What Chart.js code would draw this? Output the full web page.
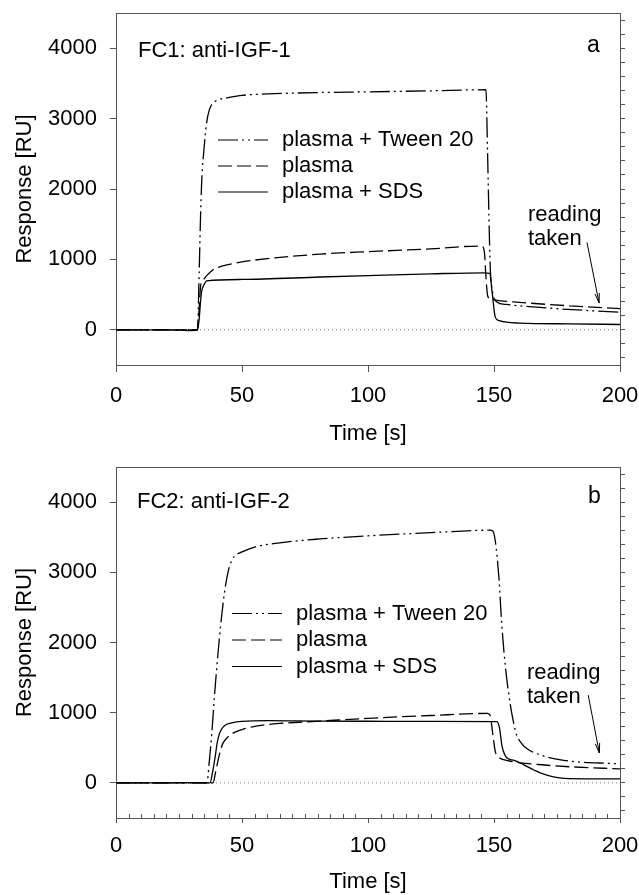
<!DOCTYPE html>
<html>
<head>
<meta charset="utf-8">
<script src="https://cdn.jsdelivr.net/npm/chart.js@4"></script>
<style>
  html, body { margin: 0; padding: 0; background: #fff; }
  #wrap { position: relative; width: 639px; height: 895px; }
  .panel { position: absolute; left: 0; width: 639px; }
  #pa { top: 0; height: 447px; }
  #pb { top: 447px; height: 448px; }
</style>
</head>
<body>
<div id="wrap">
  <div class="panel" id="pa"><canvas id="chartA"></canvas></div>
  <div class="panel" id="pb"><canvas id="chartB"></canvas></div>
</div>
<script>
// series names (legend order)
const seriesNames = ['plasma + Tween 20', 'plasma', 'plasma + SDS'];

// axis ticks
const xTicks = [0, 50, 100, 150, 200];
const xMinorTicks = [5, 10, 15, 20, 25, 30, 35, 40, 45, 55, 60, 65, 70, 75, 80, 85, 90, 95,
                     105, 110, 115, 120, 125, 130, 135, 140, 145, 155, 160, 165, 170, 175, 180, 185, 190, 195];
const yTicks = [0, 1000, 2000, 3000, 4000];
const yMinorTicks = [-400, -200, 0, 200, 400, 600, 800, 1000, 1200, 1400, 1600, 1800, 2000, 2200,
                     2400, 2600, 2800, 3000, 3200, 3400, 3600, 3800, 4000, 4200, 4400];
const zeroLine = [[0, 0], [200, 0]];

// panel a: FC1 anti-IGF-1  [time s, response RU]
const tweenA = [[0, 0], [10, 0], [20, 0], [30, 0], [32.3, 0], [33, 800], [33.5, 1550], [34, 2100],
  [35, 2600], [36, 2950], [37, 3120], [38, 3200], [39, 3235], [40, 3260], [45, 3300], [50, 3330],
  [60, 3350], [80, 3370], [100, 3380], [125, 3395], [146.8, 3410], [147.4, 2600], [148, 1600],
  [148.5, 900], [149.5, 520], [151, 400], [155, 360], [175, 300], [200, 250]];
const plasmaA = [[0, 0], [10, 0], [20, 0], [30, 0], [32.3, 0], [33, 300], [33.5, 600], [34, 680],
  [35, 725], [36, 770], [38, 840], [40, 880], [45, 930], [50, 965], [60, 1010], [81, 1075],
  [100, 1110], [125, 1150], [144, 1190], [145.3, 1185], [146.2, 1100], [146.8, 750], [147.5, 480],
  [148.5, 440], [152, 415], [160, 390], [180, 340], [200, 300]];
const sdsA = [[0, 0], [10, 0], [20, 0], [30, -10], [32.3, 0], [33, 150], [33.5, 380], [34, 550],
  [34.8, 630], [36, 695], [50, 715], [81, 750], [100, 770], [125, 795], [146, 810], [148.3, 800],
  [149.3, 520], [150.5, 180], [152, 130], [160, 95], [180, 85], [200, 75]];

// panel b: FC2 anti-IGF-2
const tweenB = [[0, 0], [10, 0], [20, 0], [30, 0], [36.1, 0], [37, 300], [38, 700], [39, 1200],
  [40, 1650], [41, 2050], [42, 2400], [43, 2700], [44, 2920], [45, 3080], [46, 3170], [47, 3230],
  [50, 3290], [55, 3360], [65, 3420], [81, 3475], [100, 3520], [125, 3565], [148.5, 3600],
  [149.5, 3590], [150.5, 3450], [152, 2900], [153, 2300], [154, 1850], [155, 1500], [156, 1230],
  [157, 1000], [158, 820], [159, 680], [161, 560], [163, 490], [166, 430], [176, 330], [200, 270]];
const plasmaB = [[0, 0], [10, 0], [20, 0], [30, 0], [38.5, 0], [39.5, 150], [40.5, 320],
  [41.5, 470], [42.5, 570], [44, 640], [46, 700], [50, 760], [55, 805], [66, 850], [81, 880],
  [100, 920], [125, 960], [147.5, 990], [148.5, 960], [149.5, 700], [150.5, 450], [151.5, 380],
  [152.5, 350], [155, 320], [160, 290], [170, 255], [180, 230], [200, 200]];
const sdsB = [[0, 0], [10, 0], [20, 0], [30, 5], [37.3, 0], [38.3, 150], [39.4, 380], [40, 540],
  [40.7, 660], [41.5, 740], [42.5, 795], [44, 835], [46, 855], [50, 875], [60, 888], [81, 880],
  [100, 878], [125, 876], [151.2, 874], [152.2, 780], [153.2, 520], [154.3, 400], [155.2, 355],
  [158, 320], [160.4, 284], [163, 235], [166, 180], [168.3, 142], [172, 100], [176, 71],
  [180, 62], [200, 57]];

const FONT = "'Liberation Sans', Arial, Helvetica, sans-serif";
const AXIS = '#555';

const toXY = arr => arr.map(p => ({ x: p[0], y: p[1] }));

// text, legend, arrow and minor ticks drawn on top
const decorPlugin = {
  id: 'decor',
  afterDraw(chart, args, o) {
    const ctx = chart.ctx;
    const xs = chart.scales.x, ys = chart.scales.y;
    ctx.save();

    // minor ticks inside bottom axis
    if (o.minorX) {
      ctx.strokeStyle = AXIS;
      ctx.lineWidth = 1;
      ctx.beginPath();
      xMinorTicks.forEach(v => {
        const px = Math.round(xs.getPixelForValue(v)) + 0.5;
        ctx.moveTo(px, chart.chartArea.bottom);
        ctx.lineTo(px, chart.chartArea.bottom - 4);
      });
      ctx.stroke();
    }

    ctx.fillStyle = '#000';
    ctx.textAlign = 'left';
    ctx.textBaseline = 'alphabetic';
    ctx.font = '22px ' + FONT;
    ctx.fillText(o.title, o.titleX, o.titleY);
    ctx.fillText('reading', o.noteX, o.noteY);
    ctx.fillText('taken', o.noteX, o.noteY + 24);
    ctx.font = '23px ' + FONT;
    ctx.fillText(o.letter, o.letterX, o.letterY);

    // legend
    ctx.font = '22px ' + FONT;
    ctx.textBaseline = 'middle';
    for (let i = 0; i < 3; i++) {
      const ds = chart.data.datasets[i];
      const y = o.legY + i * o.legStep;
      ctx.strokeStyle = '#000';
      ctx.lineWidth = 1.1;
      ctx.setLineDash(ds.borderDash || []);
      ctx.beginPath();
      ctx.moveTo(o.legX, y);
      ctx.lineTo(o.legX + 50, y);
      ctx.stroke();
      ctx.setLineDash([]);
      ctx.fillText(ds.label, o.legX + 64, y);
    }

    // arrow
    const x0 = xs.getPixelForValue(o.arrow[0][0]), y0 = ys.getPixelForValue(o.arrow[0][1]);
    const x1 = xs.getPixelForValue(o.arrow[1][0]), y1 = ys.getPixelForValue(o.arrow[1][1]);
    ctx.strokeStyle = '#000';
    ctx.lineWidth = 1;
    ctx.beginPath();
    ctx.moveTo(x0, y0);
    ctx.lineTo(x1, y1);
    const ang = Math.atan2(y1 - y0, x1 - x0);
    ctx.moveTo(x1 - 10 * Math.cos(ang - 0.22), y1 - 10 * Math.sin(ang - 0.22));
    ctx.lineTo(x1, y1);
    ctx.lineTo(x1 - 10 * Math.cos(ang + 0.22), y1 - 10 * Math.sin(ang + 0.22));
    ctx.stroke();
    ctx.restore();
  }
};

function makePanel(id, tween, plasma, sds, p) {
  const lineStyle = { borderColor: '#000', borderWidth: 1.3, pointRadius: 0, fill: false,
                      cubicInterpolationMode: 'monotone' };
  return new Chart(document.getElementById(id), {
    type: 'line',
    data: {
      datasets: [
        Object.assign({ label: seriesNames[0], data: toXY(tween), borderDash: [20, 4, 2, 4, 2, 4] }, lineStyle),
        Object.assign({ label: seriesNames[1], data: toXY(plasma), borderDash: [14, 5] }, lineStyle),
        Object.assign({ label: seriesNames[2], data: toXY(sds) }, lineStyle),
        { label: 'zero', data: toXY(zeroLine), borderColor: '#777', borderWidth: 1,
          borderDash: [1, 3], pointRadius: 0, fill: false }
      ]
    },
    options: {
      responsive: true,
      maintainAspectRatio: false,
      animation: false,
      layout: { padding: { top: p.padTop, right: 0, bottom: 0, left: 0 } },
      plugins: {
        legend: { display: false },
        tooltip: { enabled: false },
        decor: p
      },
      scales: {
        x: {
          type: 'linear', position: 'bottom', min: 0, max: 200,
          afterBuildTicks: s => { s.ticks = xTicks.map(v => ({ value: v })); },
          afterFit: s => { s.height = p.xHeight; s.paddingLeft = 0; s.paddingRight = 0; },
          grid: { drawOnChartArea: false, drawTicks: true, tickLength: p.xTickLen, color: AXIS, lineWidth: 1 },
          border: { display: true, color: AXIS, width: 1 },
          ticks: { color: '#000', font: { family: FONT, size: 22 }, padding: p.xPad,
                   maxRotation: 0, autoSkip: false, callback: v => String(v) },
          title: { display: true, text: 'Time [s]', color: '#000', font: { family: FONT, size: 22 },
                   padding: { top: 0, bottom: 0 } }
        },
        xTop: {
          type: 'linear', position: 'top', min: 0, max: 200,
          grid: { display: false },
          ticks: { display: false },
          border: { display: true, color: AXIS, width: 1 },
          afterFit: s => { s.height = 0; s.paddingLeft = 0; s.paddingRight = 0; }
        },
        y: {
          type: 'linear', position: 'left', min: -500, max: 4500,
          afterBuildTicks: s => { s.ticks = yTicks.map(v => ({ value: v })); },
          afterFit: s => { s.width = 116; s.paddingTop = 0; s.paddingBottom = 0; },
          grid: { drawOnChartArea: false, drawTicks: true, tickLength: 6, color: AXIS, lineWidth: 1 },
          border: { display: true, color: AXIS, width: 1 },
          ticks: { color: '#000', font: { family: FONT, size: 22, lineHeight: 1 }, padding: 13,
                   autoSkip: false, callback: v => String(v) },
          title: { display: true, text: 'Response [RU]', color: '#000', font: { family: FONT, size: 22 },
                   padding: { top: 12, bottom: 0 } }
        },
        yRight: {
          type: 'linear', position: 'right', min: -500, max: 4500,
          afterBuildTicks: s => { s.ticks = yMinorTicks.map(v => ({ value: v })); },
          afterFit: s => { s.width = 19; s.paddingTop = 0; s.paddingBottom = 0; },
          grid: { drawOnChartArea: false, drawTicks: true, tickLength: 5, color: AXIS, lineWidth: 1 },
          border: { display: true, color: AXIS, width: 1 },
          ticks: { display: false }
        }
      }
    },
    plugins: [decorPlugin]
  });
}

makePanel('chartA', tweenA, plasmaA, sdsA, {
  padTop: 13, xHeight: 82, xTickLen: 7, xPad: 11, minorX: false,
  title: 'FC1: anti-IGF-1', titleX: 138, titleY: 57,
  letter: 'a', letterX: 587, letterY: 52,
  legX: 218, legY: 140, legStep: 26,
  noteX: 528, noteY: 221,
  arrow: [[186.9, 1240], [191.7, 380]]
});

makePanel('chartB', tweenB, plasmaB, sdsB, {
  padTop: 20, xHeight: 77, xTickLen: 5, xPad: 10, minorX: true,
  title: 'FC2: anti-IGF-2', titleX: 137, titleY: 61,
  letter: 'b', letterX: 588, letterY: 56,
  legX: 232, legY: 166.5, legStep: 26.5,
  noteX: 527, noteY: 232,
  arrow: [[187.4, 1250], [191.8, 426]]
});
</script>
</body>
</html>
